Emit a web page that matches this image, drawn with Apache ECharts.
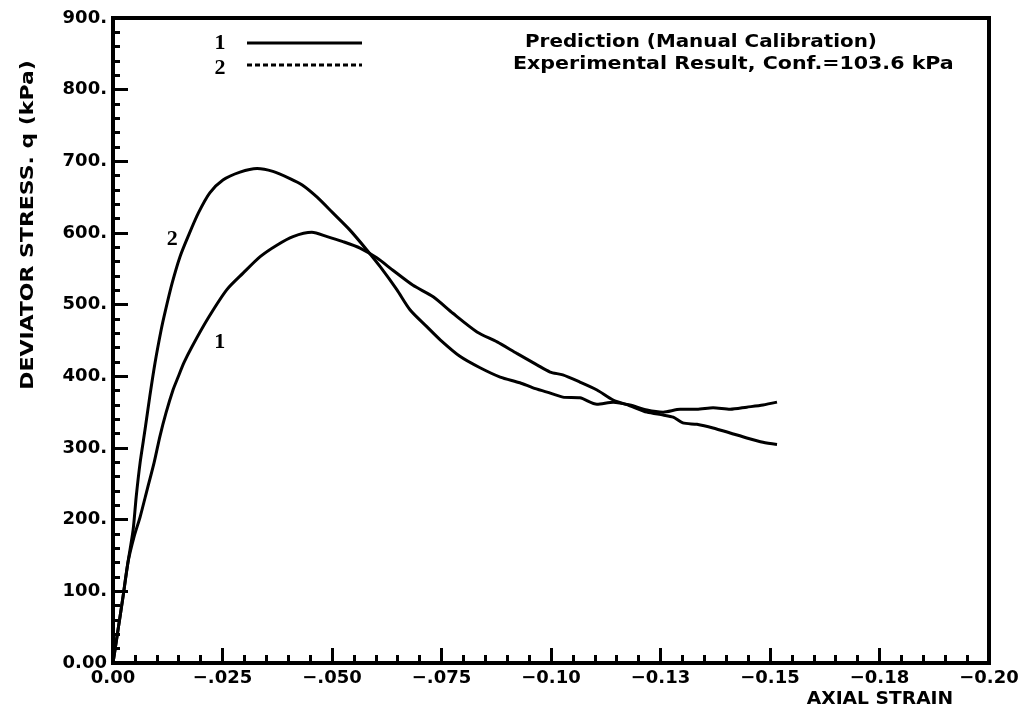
<!DOCTYPE html>
<html><head><meta charset="utf-8">
<script src="https://cdn.jsdelivr.net/npm/echarts@6/dist/echarts.min.js"></script>
<style>html,body{margin:0;padding:0;background:#fff}#c{width:1029px;height:711px}</style>
</head><body><div id="c"></div>
<script>
// Curve 1: prediction (manual calibration)
const predStrain = [0, -0.00114, -0.0023, -0.0034, -0.0048, -0.0062, -0.0078, -0.0094, -0.0107, -0.0121, -0.0137, -0.0148, -0.0162, -0.0180, -0.0217, -0.0260, -0.0297, -0.0336, -0.0374, -0.0411, -0.0454, -0.0489, -0.0525, -0.0564, -0.0603, -0.0639, -0.0685, -0.0731, -0.0776, -0.0831, -0.0877, -0.0922, -0.0968, -0.0998, -0.1027, -0.1066, -0.1105, -0.1142, -0.1180, -0.1219, -0.1256, -0.1279, -0.1301, -0.1333, -0.1370, -0.1409, -0.1447, -0.1484, -0.1516];
const predStress = [0, 46, 93, 140, 176, 204, 242, 280, 316, 349, 381, 398, 419, 441, 481, 521, 544, 567, 583, 595, 601, 595, 588, 579, 565, 548, 527, 511, 488, 462, 448, 432, 416, 406, 402, 392, 381, 367, 359, 350, 346, 343, 335, 333, 328, 321, 314, 308, 305];
// Curve 2: experimental result, conf. = 103.6 kPa
const expStrain = [0, -0.00114, -0.0023, -0.0034, -0.0046, -0.0053, -0.0062, -0.0073, -0.0084, -0.0096, -0.0110, -0.0119, -0.0135, -0.0153, -0.0172, -0.0195, -0.0221, -0.0251, -0.0290, -0.0329, -0.0365, -0.0404, -0.0432, -0.0466, -0.0502, -0.0541, -0.0580, -0.0610, -0.0648, -0.0678, -0.0717, -0.0747, -0.0792, -0.0838, -0.0884, -0.0929, -0.0959, -0.0991, -0.1027, -0.1066, -0.1105, -0.1142, -0.1180, -0.1219, -0.1256, -0.1295, -0.1333, -0.1370, -0.1409, -0.1447, -0.1484, -0.1516];
const expStress = [0, 46, 93, 140, 186, 232, 280, 325, 372, 419, 465, 490, 530, 567, 596, 628, 656, 674, 685, 690, 686, 676, 667, 650, 628, 604, 576, 553, 521, 493, 469, 451, 428, 412, 399, 391, 384, 378, 371, 370, 361, 364, 360, 353, 350, 354, 354, 356, 354, 357, 360, 364];

const seriesNames = ['Prediction (Manual Calibration)', 'Experimental Result, Conf.=103.6 kPa'];
const curveTags = ['1', '2'];
const tagStrain = [-0.0244, -0.0135];
const tagStress = [447, 591];

const xTickLabels = ['0.00', '\u2212.025', '\u2212.050', '\u2212.075', '\u22120.10', '\u22120.13', '\u22120.15', '\u22120.18', '\u22120.20'];
const yTickLabels = ['0.00', '100.', '200.', '300.', '400.', '500.', '600.', '700.', '800.', '900.'];
const xTitle = 'AXIAL STRAIN';
const yTitle = 'DEVIATOR STRESS. q (kPa)';

const FONT = 'DejaVu Sans';
const SERIF = 'Liberation Serif';

function pairs(xs, ys) { return xs.map((x, i) => [x, ys[i]]); }

const chart = echarts.init(document.getElementById('c'), null, {renderer: 'canvas'});

function tagPoint(i) {
  return {
    symbol: 'circle', symbolSize: 1, itemStyle: {color: 'rgba(0,0,0,0)'},
    label: {show: true, position: 'inside', color: '#000', fontFamily: SERIF, fontWeight: 'bold', fontSize: 22,
      formatter: curveTags[i]},
    data: [{coord: [tagStrain[i], tagStress[i]]}]
  };
}

function txt(x, y, text, font, align, scaleX, rotation) {
  return {type: 'text', x: x, y: y, scaleX: scaleX || 1, rotation: rotation || 0,
    style: {text: text, fill: '#000', font: font, textAlign: align, textVerticalAlign: 'middle'}};
}

chart.setOption({
  animation: false,
  backgroundColor: '#fff',
  grid: {left: 113, top: 18, right: 40, bottom: 48, show: true, borderColor: '#000', borderWidth: 4, backgroundColor: 'transparent'},
  xAxis: {
    type: 'value', min: -0.2, max: 0, interval: 0.025, inverse: true,
    axisLine: {show: true, onZero: false, lineStyle: {color: '#000', width: 4}},
    axisTick: {show: true, inside: true, length: 15, lineStyle: {color: '#000', width: 3}},
    minorTick: {show: true, splitNumber: 5, length: 8, lineStyle: {color: '#000', width: 3}},
    splitLine: {show: false},
    axisLabel: {color: '#000', fontFamily: FONT, fontWeight: 'bold', fontSize: 18, margin: 6,
      formatter: v => xTickLabels[Math.round(-v / 0.025)]}
  },
  yAxis: {
    type: 'value', min: 0, max: 900, interval: 100,
    axisLine: {show: true, onZero: false, lineStyle: {color: '#000', width: 4}},
    axisTick: {show: true, inside: true, length: 15, lineStyle: {color: '#000', width: 3}},
    minorTick: {show: true, splitNumber: 5, length: 7, lineStyle: {color: '#000', width: 3}},
    splitLine: {show: false},
    axisLabel: {color: '#000', fontFamily: FONT, fontWeight: 'bold', fontSize: 18, margin: 6,
      formatter: v => yTickLabels[Math.round(v / 100)]}
  },
  series: [
    {name: seriesNames[0], type: 'line', data: pairs(predStrain, predStress), showSymbol: false, smooth: 0.25,
      lineStyle: {color: '#000', width: 3}, markPoint: tagPoint(0)},
    {name: seriesNames[1], type: 'line', data: pairs(expStrain, expStress), showSymbol: false, smooth: 0.25,
      lineStyle: {color: '#000', width: 3}, markPoint: tagPoint(1)}
  ],
  graphic: [
    txt(220, 43, curveTags[0], 'bold 22px "' + SERIF + '"', 'center'),
    {type: 'line', shape: {x1: 247, y1: 43, x2: 362, y2: 43}, style: {stroke: '#000', lineWidth: 3}},
    txt(220, 68, curveTags[1], 'bold 22px "' + SERIF + '"', 'center'),
    {type: 'line', shape: {x1: 247, y1: 65, x2: 362, y2: 65}, style: {stroke: '#000', lineWidth: 3, lineDash: [5, 3]}},
    txt(525, 43, seriesNames[0], 'bold 17px "' + FONT + '"', 'left', 1.17),
    txt(513, 65, seriesNames[1], 'bold 17px "' + FONT + '"', 'left', 1.21),
    txt(28, 225, yTitle, 'bold 18px "' + FONT + '"', 'center', 1.22, Math.PI / 2),
    txt(880, 700, xTitle, 'bold 17px "' + FONT + '"', 'center', 1.1)
  ]
});
</script></body></html>
